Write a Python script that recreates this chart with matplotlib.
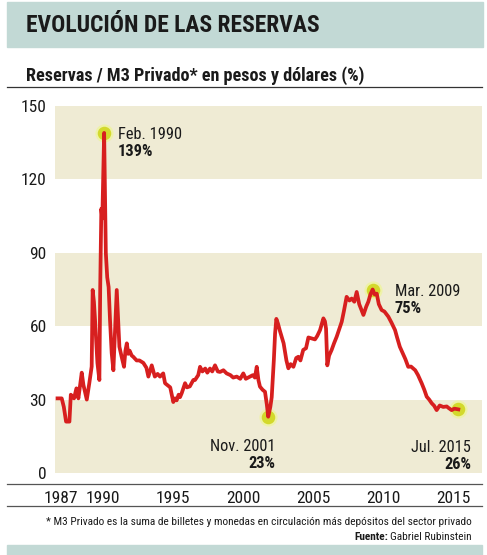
import matplotlib
matplotlib.use("Agg")
from matplotlib import pyplot as plt
from matplotlib import font_manager
from matplotlib.lines import Line2D
from matplotlib.patches import Rectangle

# Serie: Reservas / M3 privado (%)
years = [1986.75, 1987.05, 1987.2, 1987.36, 1987.6, 1987.7, 1987.93, 1988.1, 1988.24, 1988.48,
         1988.6, 1988.84, 1989.02, 1989.19, 1989.26, 1989.35, 1989.43, 1989.6, 1989.74, 1989.8,
         1989.88, 1989.95, 1990.08, 1990.2, 1990.3, 1990.4, 1990.5, 1990.62, 1990.74, 1990.98,
         1991.1, 1991.17, 1991.33, 1991.5, 1991.6, 1991.7, 1991.8, 1991.9, 1992.05, 1992.16,
         1992.4, 1992.6, 1992.88, 1993.1, 1993.24, 1993.48, 1993.7, 1993.9, 1994.07, 1994.3,
         1994.43, 1994.8, 1995.02, 1995.15, 1995.26, 1995.4, 1995.5, 1995.62, 1995.86, 1996.0,
         1996.2, 1996.45, 1996.57, 1996.8, 1996.93, 1997.1, 1997.3, 1997.45, 1997.64, 1997.8,
         1998.0, 1998.2, 1998.36, 1998.6, 1998.83, 1999.1, 1999.3, 1999.55, 1999.8, 2000.02,
         2000.2, 2000.5, 2000.7, 2000.85, 2000.98, 2001.1, 2001.21, 2001.4, 2001.57, 2001.7,
         2001.8, 2001.95, 2002.05, 2002.2, 2002.29, 2002.38, 2002.5, 2002.64, 2002.9, 2003.1,
         2003.24, 2003.4, 2003.6, 2003.8, 2003.95, 2004.1, 2004.3, 2004.5, 2004.67, 2004.9,
         2005.14, 2005.3, 2005.5, 2005.74, 2005.85, 2005.93, 2006.02, 2006.15, 2006.33, 2006.5,
         2006.69, 2007.05, 2007.2, 2007.4, 2007.6, 2007.76, 2007.95, 2008.12, 2008.3, 2008.6,
         2008.8, 2008.95, 2009.1, 2009.26, 2009.4, 2009.55, 2009.7, 2009.9, 2010.1, 2010.38,
         2010.6, 2010.86, 2011.0, 2011.2, 2011.4, 2011.6, 2011.8, 2012.0, 2012.3, 2012.5,
         2012.76, 2012.95, 2013.12, 2013.3, 2013.48, 2013.65, 2013.83, 2014.05, 2014.3, 2014.55,
         2014.7, 2014.9, 2015.1, 2015.38]
values = [30.5, 30.5, 27, 21, 21, 32, 30.5, 34.6, 30.5, 41,
          36, 30, 36.7, 43.5, 74.8, 70, 62.6, 45, 38, 76,
          108, 104, 139, 90, 80, 76, 62.5, 49, 42, 74.8,
          60, 51.6, 47.5, 43.4, 50, 53, 48.7, 50, 48, 47.5,
          46, 46, 45, 43, 39.4, 44, 39.4, 40.5, 39.4, 40.7,
          36.7, 35, 29, 30.5, 29.7, 32, 31, 32.6, 36.7, 35,
          35.4, 38, 38, 40, 43.4, 41.5, 42.7, 41, 42.7, 41.5,
          44, 41.5, 41.3, 42, 40.7, 40, 39, 39.4, 38.5, 40.7,
          38.5, 39.4, 40, 39, 43.4, 38, 35.3, 34, 33.2, 28,
          23, 27, 31, 46, 57, 63, 61, 58, 53, 46,
          42.8, 44.5, 43.4, 47, 47.5, 46, 50.3, 51, 55.4, 55,
          54.6, 56, 58.4, 63.2, 62, 59, 44, 48, 50.3, 53,
          55.7, 61.8, 66, 72, 70.5, 71.3, 70, 74, 69, 64.6,
          68, 70, 73, 75, 73, 73.3, 69, 66.6, 66, 63.9,
          61.5, 58.4, 55.5, 51.6, 49, 46.5, 43.4, 43.5, 42, 40,
          36.7, 34, 31.2, 30, 28.5, 27.5, 25.7, 27.6, 27, 27.2,
          26.5, 25.7, 26.3, 26]

# Puntos destacados: (anio en la serie, fecha, valor)
highlights = [(1990.08, "Feb. 1990", "139%"),
              (2001.8, "Nov. 2001", "23%"),
              (2009.26, "Mar. 2009", "75%"),
              (2015.38, "Jul. 2015", "26%")]

yticks = [0, 30, 60, 90, 120, 150]
xticks = [1987, 1990, 1995, 2000, 2005, 2010, 2015]

W, H = 487, 555
TEAL = '#c2d9d5'
BEIGE = '#efebd4'
RED = '#d71f1f'

# Fuente angosta si existe
fonts = font_manager.fontManager.ttflist
names = {f.name for f in fonts}
family = None
for cand in ['Roboto Condensed', 'Liberation Sans Narrow', 'Open Sans Condensed', 'Noto Sans Condensed']:
    if cand in names:
        family = cand
        break
if family is None:
    if any(f.name == 'DejaVu Sans' and 'condensed' in str(f.stretch) for f in fonts):
        family = 'DejaVu Sans'
        plt.rcParams['font.stretch'] = 'condensed'
    elif 'Liberation Sans' in names:
        family = 'Liberation Sans'
    else:
        family = 'DejaVu Sans'
plt.rcParams['font.family'] = [family, 'DejaVu Sans']


def fx(x):
    return x / W


def fy(y):
    return 1 - y / H


def fit(t, width_px):
    # ajusta el tamano del texto al ancho medido en la referencia
    fig.canvas.draw()
    w = t.get_window_extent().width
    t.set_fontsize(t.get_fontsize() * width_px / w)


fig = plt.figure(figsize=(W / 100, H / 100), dpi=100)

# Banda del titulo
fig.patches.append(Rectangle((fx(7), fy(47)), fx(476), 45 / H, transform=fig.transFigure,
                             color=TEAL, zorder=0))
title = fig.text(fx(26), fy(25), "EVOLUCIÓN DE LAS RESERVAS", fontsize=18, fontweight='bold',
                 va='center', ha='left', color='#1a1a1a')
sub = fig.text(fx(26), fy(76), "Reservas / M3 Privado* en pesos y dólares (%)", fontsize=11.5,
               fontweight='bold', va='center', ha='left', color='#1a1a1a')
fig.add_artist(Line2D([fx(7), fx(482)], [fy(87), fy(87)], color='#333333', lw=0.9))

ax = fig.add_axes([fx(55), fy(473), fx(427), (473 - 106) / H])
for lo in (0, 60, 120):
    ax.axhspan(lo, lo + 30, color=BEIGE, lw=0, zorder=0)

ax.plot(years, values, color=RED, lw=2.7, solid_joinstyle='round', zorder=3)

pts = []
for yr, date, pct in highlights:
    i = years.index(yr)
    pts.append((years[i], values[i], date, pct))
    ax.scatter(years[i], values[i], s=170, color='#eef2a8', lw=0, zorder=2)
    ax.scatter(years[i], values[i], s=95, color='#d3d92c', lw=0, zorder=2)

ax.set_xlim(1986.57, 2017.07)
ax.set_ylim(0, 150)
ax.set_yticks(yticks)
ax.set_xticks(xticks)
ax.tick_params(axis='both', length=0, labelsize=12.5, colors='#1a1a1a')
ax.tick_params(axis='y', pad=6)
ax.tick_params(axis='x', pad=13)
for lbl in ax.get_yticklabels():
    lbl.set_va('center_baseline')
for s in ax.spines.values():
    s.set_visible(False)

# Etiquetas de los puntos destacados: desplazamiento en pixeles y alineacion
offsets = [(14, -2, 'left'), (7, -30, 'right'), (22, -2, 'left'), (13, -38, 'right')]
lab = dict(fontsize=11.8, color='#1a1a1a', textcoords='offset pixels', va='center')
for (x, y, date, pct), (dx, dy, ha) in zip(pts, offsets):
    ax.annotate(date, (x, y), xytext=(dx, dy), ha=ha, **lab)
    ax.annotate(pct, (x, y), xytext=(dx, dy - 17), ha=ha, fontweight='bold', **lab)

# Lineas del eje x
fig.add_artist(Line2D([fx(7), fx(482)], [fy(484), fy(484)], color='#555555', lw=0.9))
fig.add_artist(Line2D([fx(7), fx(482)], [fy(506), fy(506)], color='#555555', lw=0.9))

note = fig.text(fx(472), fy(522),
                "* M3 Privado es la suma de billetes y monedas en circulación más depósitos del sector privado",
                fontsize=7.2, ha='right', va='center', color='#1a1a1a')
src = fig.text(fx(472), fy(537), "Gabriel Rubinstein", fontsize=7.2, ha='right', va='center', color='#1a1a1a')

fit(title, 294)
fit(sub, 342)
fit(note, 429)
src.set_fontsize(note.get_fontsize())
fig.canvas.draw()
bb = src.get_window_extent()
fig.text(bb.x0 / W - 2 / W, fy(537), "Fuente:", fontsize=note.get_fontsize(), fontweight='bold',
         ha='right', va='center', color='#1a1a1a')

fig.patches.append(Rectangle((fx(7), 0), fx(475), 10 / H, transform=fig.transFigure, color=TEAL, zorder=0))

fig.savefig("out.png", dpi=100)
